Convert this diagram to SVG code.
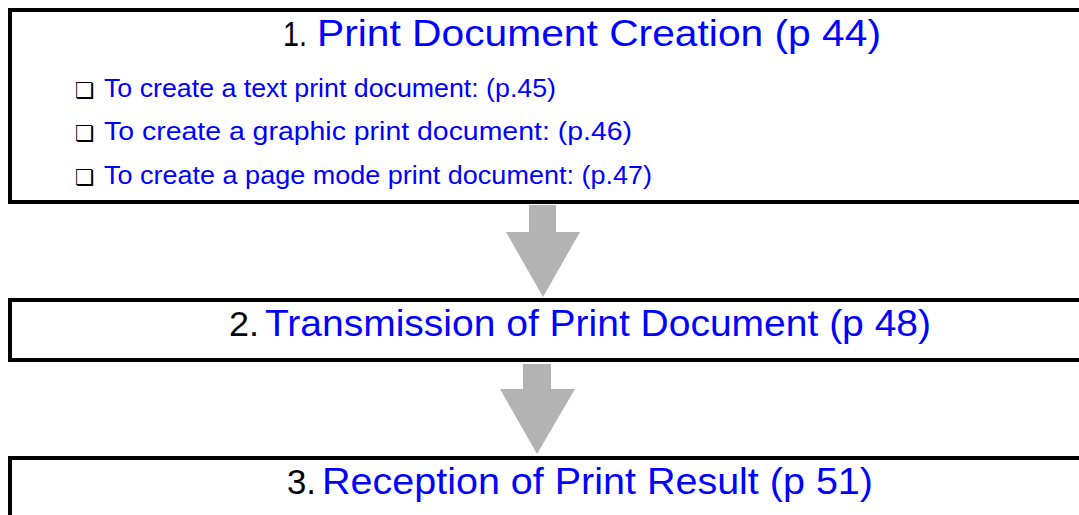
<svg xmlns="http://www.w3.org/2000/svg" width="1079" height="515" viewBox="0 0 1079 515">
<style>
.box{fill:#fff;stroke:#000;stroke-width:4}
.num{font-family:"Liberation Sans",Arial,sans-serif;fill:#000;font-size:35px}
.ttl{font-family:"Liberation Sans",Arial,sans-serif;fill:#0000ff;font-size:36px}
.item{font-family:"Liberation Sans",Arial,sans-serif;fill:#0000ff;font-size:25px}
.chk{font-family:"DejaVu Sans",sans-serif;fill:#000;font-size:22px}
.arrow{fill:#b3b3b3;stroke:none}
</style>
<rect width="1079" height="515" fill="#fff"/>
<g id="node1">
<rect class="box" x="10" y="10" width="1100" height="192"/>
<text class="num" x="283" y="46" textLength="24" lengthAdjust="spacingAndGlyphs">1.</text>
<text class="ttl" x="317" y="46" textLength="564" lengthAdjust="spacingAndGlyphs">Print Document Creation (p 44)</text>
<text class="chk" x="75" y="98">❏</text>
<text class="item" x="104" y="97" textLength="452" lengthAdjust="spacingAndGlyphs">To create a text print document: (p.45)</text>
<text class="chk" x="75" y="141">❏</text>
<text class="item" x="104" y="140" textLength="528" lengthAdjust="spacingAndGlyphs">To create a graphic print document: (p.46)</text>
<text class="chk" x="75" y="185">❏</text>
<text class="item" x="104" y="184" textLength="548" lengthAdjust="spacingAndGlyphs">To create a page mode print document: (p.47)</text>
</g>
<g id="node2">
<rect class="box" x="10" y="300" width="1100" height="60"/>
<text class="num" x="229" y="336" textLength="30" lengthAdjust="spacingAndGlyphs">2.</text>
<text class="ttl" x="265" y="336" textLength="666" lengthAdjust="spacingAndGlyphs">Transmission of Print Document (p 48)</text>
</g>
<g id="node3">
<rect class="box" x="10" y="458" width="1100" height="80"/>
<text class="num" x="287" y="494" textLength="29" lengthAdjust="spacingAndGlyphs">3.</text>
<text class="ttl" x="322" y="494" textLength="551" lengthAdjust="spacingAndGlyphs">Reception of Print Result (p 51)</text>
</g>
<g id="connectors">
<polygon class="arrow" points="529,205 556,205 556,232 580,232 543,297 506,232 529,232"/>
<polygon class="arrow" points="523,364 551,364 551,389 575,389 537,454 500,389 523,389"/>
</g>
</svg>
